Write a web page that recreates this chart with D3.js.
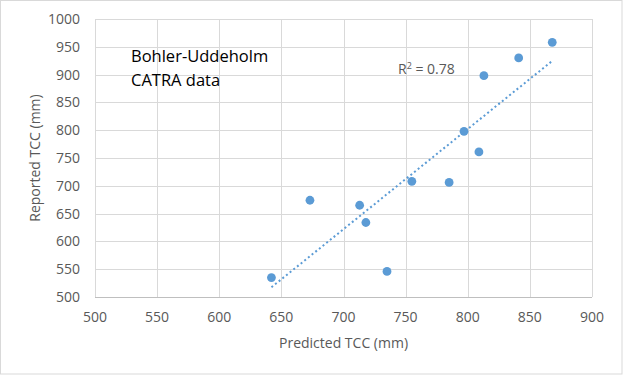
<!DOCTYPE html>
<html lang="en">
<head>
  <meta charset="UTF-8">
  <title>Reported vs predicted TCC</title>
  <script src="https://d3js.org/d3.v7.min.js"></script>
  <style>
    body { margin: 0; background: #fff; }
    text { font-family: "Open Sans", sans-serif; }
  </style>
</head>
<body>
  <svg id="chart" width="624" height="375"></svg>
  <script>
    // predicted / reported TCC (mm)
    const predicted = [642, 673, 713, 718, 735, 755, 785, 797, 809, 813, 841, 868];
    const reported  = [535, 674, 665, 634, 546, 708, 706, 798, 761, 898, 930, 958];
    const xTicks = [500, 550, 600, 650, 700, 750, 800, 850, 900];
    const yTicks = [500, 550, 600, 650, 700, 750, 800, 850, 900, 950, 1000];
    const noteLines = ["Bohler-Uddeholm", "CATRA data"];
    const r2Label = "0.78";

    const svg = d3.select("#chart");
    const plotLeft = 95, plotRight = 592, plotTop = 19, plotBottom = 297;

    const x = d3.scaleLinear().domain([500, 900]).range([plotLeft, plotRight]);
    const y = d3.scaleLinear().domain([500, 1000]).range([plotBottom, plotTop]);

    // outer chart border
    svg.append("rect")
        .attr("x", 0.5).attr("y", 0.5)
        .attr("width", 621.5).attr("height", 373.5)
        .attr("fill", "#fff")
        .attr("stroke", "#d9d9d9");

    // gridlines
    svg.append("g").selectAll("line")
        .data(xTicks).enter().append("line")
        .attr("x1", d => Math.round(x(d)) + 0.5).attr("x2", d => Math.round(x(d)) + 0.5)
        .attr("y1", plotTop).attr("y2", plotBottom)
        .attr("stroke", "#d9d9d9");
    svg.append("g").selectAll("line")
        .data(yTicks).enter().append("line")
        .attr("y1", d => Math.round(y(d)) + 0.5).attr("y2", d => Math.round(y(d)) + 0.5)
        .attr("x1", plotLeft).attr("x2", plotRight)
        .attr("stroke", d => d === 500 ? "#bfbfbf" : "#d9d9d9");

    // tick labels
    svg.append("g").selectAll("text")
        .data(xTicks).enter().append("text")
        .attr("x", d => x(d)).attr("y", 322)
        .attr("text-anchor", "middle")
        .attr("font-size", 14).attr("fill", "#595959")
        .text(d => d);
    svg.append("g").selectAll("text")
        .data(yTicks).enter().append("text")
        .attr("x", 80).attr("y", d => y(d) + 5)
        .attr("text-anchor", "end")
        .attr("font-size", 14).attr("fill", "#595959")
        .text(d => d);

    // axis titles
    svg.append("text")
        .attr("x", x(700)).attr("y", 348)
        .attr("text-anchor", "middle")
        .attr("font-size", 14).attr("fill", "#595959")
        .text("Predicted TCC (mm)");
    svg.append("text")
        .attr("transform", `translate(40,${(plotTop + plotBottom) / 2}) rotate(-90)`)
        .attr("text-anchor", "middle")
        .attr("font-size", 14).attr("fill", "#595959")
        .text("Reported TCC (mm)");

    // linear trendline (least squares)
    const mx = d3.mean(predicted), my = d3.mean(reported);
    const sxy = d3.sum(predicted, (p, i) => (p - mx) * (reported[i] - my));
    const sxx = d3.sum(predicted, p => (p - mx) * (p - mx));
    const slope = sxy / sxx, icpt = my - slope * mx;
    const ends = d3.extent(predicted);
    svg.append("line")
        .attr("x1", x(ends[0])).attr("y1", y(slope * ends[0] + icpt))
        .attr("x2", x(ends[1])).attr("y2", y(slope * ends[1] + icpt))
        .attr("stroke", "#5b9bd5")
        .attr("stroke-width", 2)
        .attr("stroke-dasharray", "2,2.7");

    // points
    svg.append("g").selectAll("circle")
        .data(predicted).enter().append("circle")
        .attr("cx", d => x(d))
        .attr("cy", (d, i) => y(reported[i]))
        .attr("r", 4.4)
        .attr("fill", "#5b9bd5");

    // R² label
    const r2 = svg.append("text")
        .attr("x", 398).attr("y", 74)
        .attr("font-size", 14).attr("fill", "#595959");
    r2.append("tspan").text("R");
    r2.append("tspan").attr("font-size", 9).attr("dy", -5).text("2");
    r2.append("tspan").attr("dy", 5).text(" = " + r2Label);

    // note
    svg.append("g").selectAll("text")
        .data(noteLines).enter().append("text")
        .attr("x", 131).attr("y", (d, i) => 62 + i * 24)
        .attr("font-size", 16.5).attr("fill", "#000")
        .text(d => d);
  </script>
</body>
</html>
